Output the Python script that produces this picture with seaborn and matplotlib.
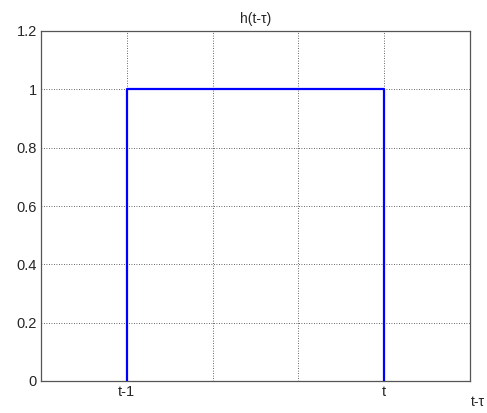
import numpy as np
import pandas as pd
import matplotlib
matplotlib.use("Agg")
import matplotlib.pyplot as plt
import seaborn as sns

# rectangular pulse h(t-tau)
tau = [1, 1, 4, 4]
h = [0, 1, 1, 0]
xticks = [0, 1, 2, 3, 4, 5]
xticklabels = ["", "t-1", "", "", "t", ""]
yticks = [0, 0.2, 0.4, 0.6, 0.8, 1, 1.2]
yticklabels = ["0", "0.2", "0.4", "0.6", "0.8", "1", "1.2"]

df = pd.DataFrame({"tau": tau, "h": h})

sns.set_style("white")
plt.rcParams["font.family"] = ["Liberation Sans", "DejaVu Sans"]

fig = plt.figure(figsize=(4.87, 4.13), dpi=100)
ax = fig.add_axes([41 / 487, 32 / 413, 429 / 487, 350 / 413])

sns.lineplot(data=df, x="tau", y="h", sort=False, estimator=None, errorbar=None,
             color="#0000ff", linewidth=1.6, ax=ax, zorder=3)

ax.set_xlim(0, 5)
ax.set_ylim(0, 1.2)
ax.set_xticks(xticks)
ax.set_xticklabels(xticklabels, fontsize=10.5)
ax.set_yticks(yticks)
ax.set_yticklabels(yticklabels, fontsize=10.5)
ax.tick_params(direction="in", length=3, color="#444444", pad=3)
ax.grid(True, linestyle=(0, (1, 2)), color="#333333", linewidth=0.6)
ax.set_axisbelow(True)
for s in ax.spines.values():
    s.set_color("#555555")
    s.set_linewidth(0.9)
    s.set_visible(True)

ax.set_xlabel("")
ax.set_ylabel("")
ax.set_title("h(t-τ)", fontsize=10, pad=6)
# x label sits at the bottom-right corner, as in the original
fig.text(485 / 487, 1 - 402 / 413, "t-τ", fontsize=10, ha="right", va="center")

fig.savefig("out.png", dpi=100, facecolor="white")
